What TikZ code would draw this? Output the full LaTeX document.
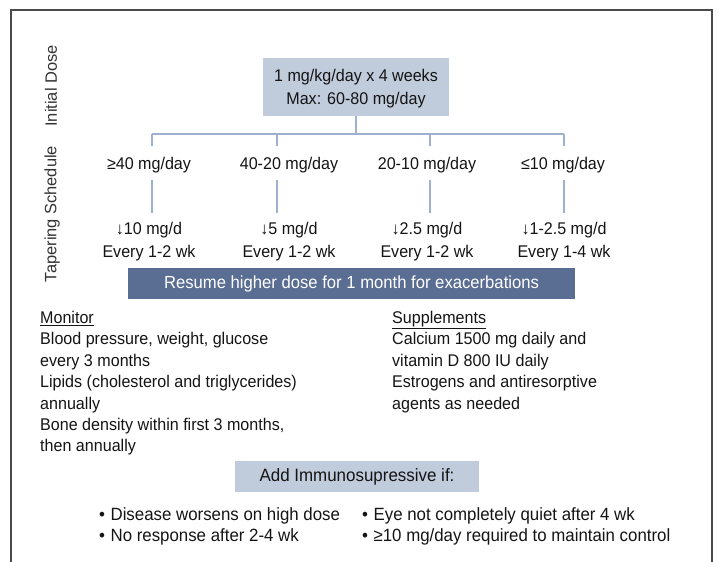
\documentclass[tikz,border=0pt]{standalone}
\usepackage{fontspec}
\setmainfont{Liberation Sans}[FakeStretch=0.95]
\newfontfamily\sidefont{Liberation Sans}
\definecolor{boxfill}{HTML}{C0CBDC}
\definecolor{linkcol}{HTML}{9DB0CD}
\definecolor{barfill}{HTML}{5A6D93}
\definecolor{framecol}{HTML}{4A4A4A}
\tikzset{
  txt/.style={font=\fontsize{17}{23}\selectfont, text=black!92, align=center, inner sep=0pt},
  shaded/.style={txt, fill=boxfill},
  link/.style={draw=linkcol, line width=2bp},
  side/.style={font=\sidefont\fontsize{16.5}{20}\selectfont, text=black!80, rotate=90},
  block/.style={font=\fontsize{17}{21.5}\selectfont, text=black!92, align=left, anchor=north west, inner sep=0pt}
}
\newcommand{\bul}{•\hspace{5.5bp}}
\begin{document}
\begin{tikzpicture}[x=1bp,y=-1bp]
\useasboundingbox (0,0) rectangle (718,562);
\draw[framecol, line width=2bp] (11,562) -- (11,10) -- (712,10) -- (712,562);
\node[side] (lab1) at (51,86) {Initial Dose};
\node[side] (lab2) at (52,214) {Tapering Schedule};
\node[shaded, minimum width=186bp, minimum height=58bp, text depth=0pt] (init) at (356,87) {1 mg/kg/day x 4 weeks\\Max: 60-80 mg/day};
\coordinate (bus) at (356,134);
\coordinate (t1) at (152,0);
\coordinate (t2) at (277,0);
\coordinate (t3) at (430,0);
\coordinate (t4) at (564,0);
\node[txt] (r1) at (149,165) {≥40 mg/day};
\node[txt] (r2) at (289,165) {40-20 mg/day};
\node[txt] (r3) at (427,165) {20-10 mg/day};
\node[txt] (r4) at (563,165) {≤10 mg/day};
\node[txt] (s1) at (149,242) {↓10 mg/d\\Every 1-2 wk};
\node[txt] (s2) at (289,242) {↓5 mg/d\\Every 1-2 wk};
\node[txt] (s3) at (427,242) {↓2.5 mg/d\\Every 1-2 wk};
\node[txt] (s4) at (564,242) {↓1-2.5 mg/d\\Every 1-4 wk};
\draw[link] (init.south) -- (bus);
\draw[link] (t1 |- bus) -- (t4 |- bus);
\foreach \i in {1,...,4} {
  \draw[link, shorten >=11bp] (t\i |- bus) -- (t\i |- r\i.north);
  \draw[link, shorten <=7bp, shorten >=9bp] (t\i |- r\i.south) -- (t\i |- s\i.north);
}
\node[shaded, fill=barfill, text=white, font=\fontsize{17.6}{23}\selectfont, minimum width=447bp, minimum height=31bp] (bar) at (351.5,283.5) {Resume higher dose for 1 month for exacerbations};
\node[block] (mon) at (40,311) {\underline{Monitor}\\Blood pressure, weight, glucose\\every 3 months\\Lipids (cholesterol and triglycerides)\\annually\\Bone density within first 3 months,\\then annually};
\node[block] (sup) at (392,311) {\underline{Supplements}\\Calcium 1500 mg daily and\\vitamin D 800 IU daily\\Estrogens and antiresorptive\\agents as needed};
\node[shaded, font=\fontsize{17.9}{23}\selectfont, minimum width=244bp, minimum height=31bp] (add) at (357,476.5) {Add Immunosupressive if:};
\node[block, font=\fontsize{17.8}{22}\selectfont] (if1) at (99,507) {\bul Disease worsens on high dose\\\bul No response after 2-4 wk};
\node[block, font=\fontsize{17.8}{22}\selectfont] (if2) at (362,507) {\bul Eye not completely quiet after 4 wk\\\bul ≥10 mg/day required to maintain control};
\end{tikzpicture}
\end{document}
